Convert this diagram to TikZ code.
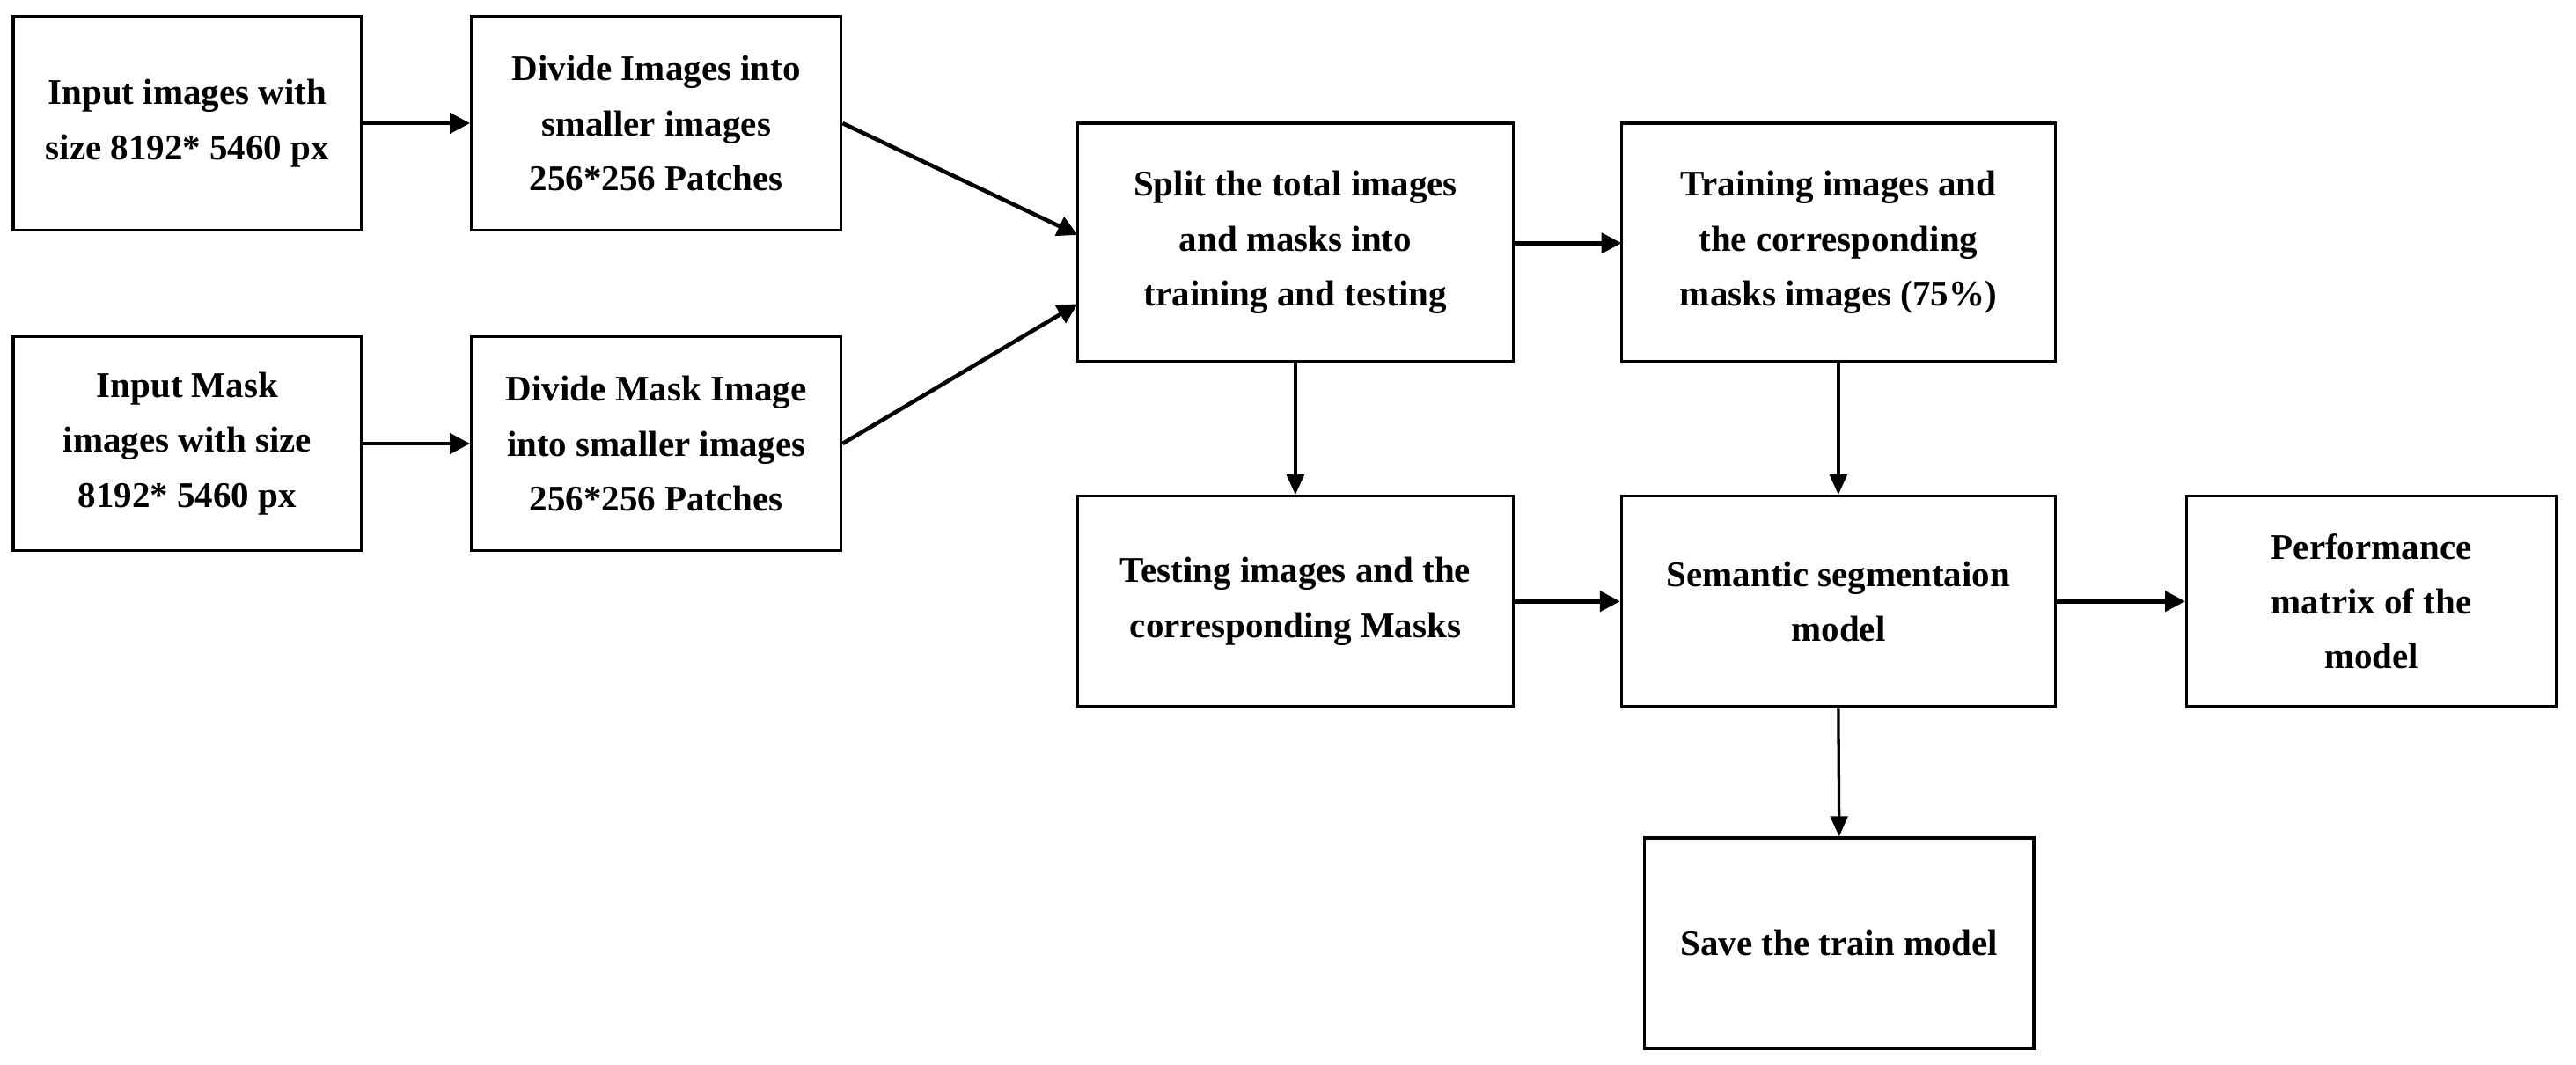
\documentclass[tikz,border=0pt]{standalone}
\usepackage{fontspec}
\setmainfont{Liberation Serif}
\usetikzlibrary{arrows.meta}
\begin{document}
\begin{tikzpicture}[x=0.02cm,y=-0.02cm,
  box/.style={draw,line width=1pt,inner sep=0pt,align=center,font=\fontsize{12.5}{19}\selectfont\bfseries},
  arr/.style={-{Triangle[length=7pt,width=7pt]},line width=1.4pt},
  varr/.style={-{Triangle[length=7pt,width=6pt]},line width=1pt}]
\useasboundingbox (0,0) rectangle (1568,648);
\newcommand{\bx}[6]{\node[box,minimum width={(#4-#2)*0.02cm},minimum height={(#5-#3)*0.02cm}] (#1) at ({(#2+#4)/2},{(#3+#5)/2}) {#6};}
\bx{A}{8}{10}{220}{140}{Input images with\\size 8192* 5460 px}
\bx{B}{287}{10}{512}{140}{Divide Images into\\smaller images\\256*256 Patches}
\bx{C}{8}{205}{220}{335}{Input Mask\\images with size\\8192* 5460 px}
\bx{D}{287}{205}{512}{335}{Divide Mask Image\\into smaller images\\256*256 Patches}
\bx{E}{656}{75}{921}{220}{Split the total images\\and masks into\\training and testing}
\bx{F}{987}{75}{1251}{220}{Training images and\\the corresponding\\masks images (75\%)}
\bx{G}{656}{302}{921}{430}{Testing images and the\\corresponding Masks}
\bx{H}{987}{302}{1251}{430}{Semantic segmentaion\\model}
\bx{I}{1331}{302}{1556}{430}{Performance\\matrix of the\\model}
\bx{J}{1001}{510}{1238}{638}{Save the train model}
\draw[arr] (A.east) -- (B.east -| B.west);
\draw[arr] (C.east) -- (D.east -| D.west);
\draw[arr] (B.east) -- (656,143);
\draw[arr] (D.east) -- (656,185);
\draw[arr] (921,148) -- (987,148);
\draw[varr] (E.south) -- (G.north);
\draw[varr] (F.south) -- (H.north);
\draw[arr] (G.east) -- (H.west);
\draw[arr] (H.east) -- (I.west);
\draw[varr] (H.south) -- (J.north);
\end{tikzpicture}
\end{document}
